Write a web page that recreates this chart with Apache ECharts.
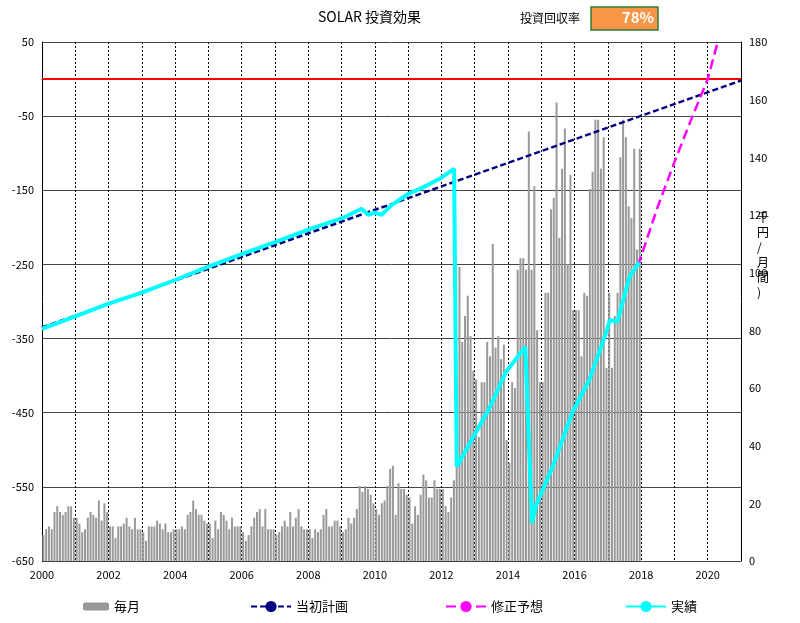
<!DOCTYPE html>
<html><head><meta charset="utf-8">
<script src="https://cdn.jsdelivr.net/npm/echarts@6/dist/echarts.min.js"></script>
<style>html,body{margin:0;padding:0;background:#fff}#c{width:800px;height:623px}</style>
</head><body><div id="c"></div>
<script>
const monthlyByYear = {
  2000:[9,11,12,11,17,19,17,16,17,19,19,15],
  2001:[15,13,10,11,15,17,16,15,21,14,20,17],
  2002:[12,12,8,12,12,13,15,12,11,15,11,11],
  2003:[10,7,12,12,12,14,13,11,13,10,10,11],
  2004:[11,11,12,11,16,17,21,18,16,16,14,13],
  2005:[13,8,14,11,17,16,14,11,15,12,12,12],
  2006:[10,7,9,12,15,17,18,12,18,11,11,11],
  2007:[9,10,12,14,12,17,12,15,18,12,11,11],
  2008:[11,8,11,10,11,16,18,12,12,14,14,12],
  2009:[10,11,15,13,15,18,26,24,26,25,23,20],
  2010:[18,16,20,21,26,32,33,16,27,25,25,23],
  2011:[22,13,19,16,23,30,28,22,22,28,25,25],
  2012:[25,19,17,22,28,58,102,76,85,92,78,66],
  2013:[63,43,62,62,76,71,110,74,78,70,75,42],
  2014:[34,62,60,101,105,105,101,149,101,130,80,62],
  2015:[62,93,93,122,126,159,112,136,150,103,134,87],
  2016:[87,87,71,93,92,129,135,153,153,136,147,67],
  2017:[93,67,85,93,140,153,147,123,119,143,108,143]
};
const planLine = [[2000,-335],[2021,-2]];
const actualLine = [[2000,-337],[2001,-320],[2002,-303],[2003,-288],[2004,-271],[2005,-253],[2006,-236],[2007,-220],[2008,-203],[2009,-188],[2009.6,-175],[2009.8,-183],[2010,-180],[2010.2,-183],[2010.5,-170],[2011,-155],[2011.5,-145],[2012,-133],[2012.38,-121],[2012.46,-523],[2012.94,-484],[2013.44,-444],[2013.94,-395],[2014.52,-361],[2014.72,-599],[2014.84,-575],[2015.34,-523],[2015.94,-449],[2016.44,-406],[2016.94,-343],[2017.06,-325],[2017.29,-327],[2017.64,-268],[2017.94,-247]];
const forecastLine = actualLine.concat([[2018.5,-172],[2019,-112],[2019.5,-55],[2020,0],[2020.3,50]]);
const leftTicks = [-650,-550,-450,-350,-250,-150,-50,50];

const bars = [];
Object.keys(monthlyByYear).forEach(y=>monthlyByYear[y].forEach((v,i)=>bars.push([+y+i/12+1/24,v])));

const chart = echarts.init(document.getElementById('c'));
const F='"MS PGothic","Noto Sans CJK JP",sans-serif';
chart.setOption({
  animation:false,
  textStyle:{fontFamily:F},
  grid:{left:42,right:59,top:42,bottom:62},
  xAxis:{type:'value',min:2000,max:2021,interval:1,
    axisLine:{lineStyle:{color:'#000'}},axisTick:{show:false},
    axisLabel:{color:'#000',fontSize:11,formatter:v=>v%2===0&&v<2021?String(v):''},
    splitLine:{show:true,lineStyle:{color:'#000',type:[2,2],width:1}}},
  yAxis:[
    {type:'value',min:-650,max:50,interval:100,position:'left',
     axisLine:{show:true,lineStyle:{color:'#000'}},axisTick:{show:false},
     axisLabel:{color:'#000',fontSize:11},
     splitLine:{show:true,lineStyle:{color:'#444',width:1}}},
    {type:'value',min:0,max:180,interval:20,position:'right',
     axisLine:{show:true,lineStyle:{color:'#000'}},axisTick:{show:false},
     axisLabel:{color:'#000',fontSize:11},splitLine:{show:false}}
  ],
  legend:[
    {data:['毎月'],left:78,top:595,itemWidth:26,itemHeight:8,textStyle:{fontSize:13,color:'#000'}},
    {data:['当初計画'],left:245,top:595,itemWidth:40,textStyle:{fontSize:13,color:'#000'}},
    {data:['修正予想'],left:440,top:595,itemWidth:40,textStyle:{fontSize:13,color:'#000'}},
    {data:['実績'],left:620,top:595,itemWidth:40,textStyle:{fontSize:13,color:'#000'}}
  ],
  series:[
    {name:'毎月',type:'bar',yAxisIndex:1,data:bars,barWidth:2,itemStyle:{color:'#999'},z:1},
    {name:'ゼロ',type:'line',data:[[2000,0],[2021,0]],symbol:'none',lineStyle:{color:'#f00',width:2},z:2,silent:true},
    {name:'当初計画',type:'line',data:planLine,symbol:'none',lineStyle:{color:'#000080',width:2.5,type:[6,3]},itemStyle:{color:'#000080'},z:3},
    {name:'修正予想',type:'line',data:forecastLine,symbol:'none',lineStyle:{color:'#ff00ff',width:2.5,type:[10,5]},itemStyle:{color:'#ff00ff'},z:4},
    {name:'実績',type:'line',data:actualLine,symbol:'none',lineStyle:{color:'#00ffff',width:4},itemStyle:{color:'#00ffff'},z:5}
  ],
  graphic:[
    {type:'text',left:318,top:10,style:{text:'SOLAR 投資効果',fontSize:14,fill:'#000',fontFamily:F}},
    {type:'text',left:520,top:12,style:{text:'投資回収率',fontSize:12,fill:'#000',fontFamily:F}},
    {type:'rect',shape:{x:591,y:7,width:67,height:23},style:{fill:'#f79646',stroke:'#2e7d32',lineWidth:1.5}},
    {type:'text',right:146,top:10,style:{text:'78%',fontSize:15,fontWeight:'bold',fill:'#fff',fontFamily:F}},
    {type:'text',left:757,top:210,style:{text:'千\n円\n/\n月\n間\n)',fontSize:12,lineHeight:15,fill:'#000',fontFamily:F}}
  ]
});
</script></body></html>
